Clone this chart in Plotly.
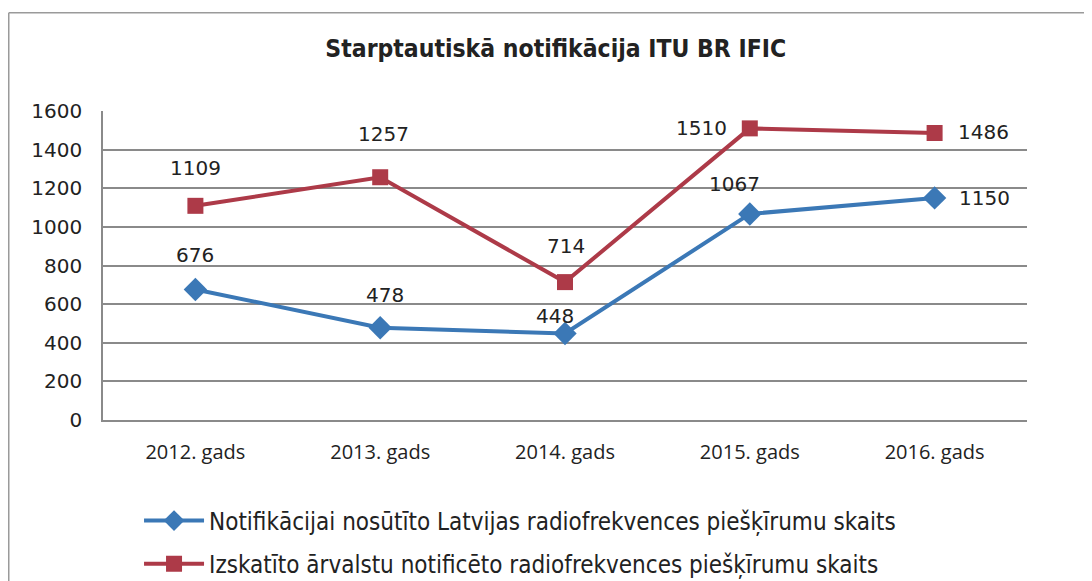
import plotly.graph_objects as go

categories = ["2012. gads", "2013. gads", "2014. gads", "2015. gads", "2016. gads"]
blue_name = "Notifikācijai nosūtīto Latvijas radiofrekvences piešķīrumu skaits"
red_name = "Izskatīto ārvalstu notificēto radiofrekvences piešķīrumu skaits"
blue_values = [676, 478, 448, 1067, 1150]
red_values = [1109, 1257, 714, 1510, 1486]
y_ticks = [0, 200, 400, 600, 800, 1000, 1200, 1400, 1600]
title_text = "Starptautiskā notifikācija ITU BR IFIC"

BLUE = "#3B78B6"
RED = "#AD3A48"
NUM_FONT = dict(family="DejaVu Sans", size=20, color="#222222")
NARROW = "DejaVu Sans Condensed, Liberation Sans, sans-serif"

# label placement (xshift, yshift) per point
blue_label_shift = [(0, 34), (5, 33), (-10, 17), (-15, 30), (50, 0)]
red_label_shift = [(0, 38), (3, 43), (1, 36), (-48, 0), (49, 1)]

fig = go.Figure()
fig.add_trace(go.Scatter(
    x=categories, y=blue_values, name=blue_name, mode="lines+markers",
    line=dict(color=BLUE, width=4),
    marker=dict(symbol="diamond", size=18, color=BLUE),
))
fig.add_trace(go.Scatter(
    x=categories, y=red_values, name=red_name, mode="lines+markers",
    line=dict(color=RED, width=4),
    marker=dict(symbol="square", size=16, color=RED),
))

annotations = []
for vals, shifts in ((blue_values, blue_label_shift), (red_values, red_label_shift)):
    for c, v, (dx, dy) in zip(categories, vals, shifts):
        annotations.append(dict(
            x=c, y=v, text=str(v), showarrow=False, xshift=dx, yshift=dy,
            font=NUM_FONT, xanchor="center", yanchor="middle",
        ))

W, H = 1084, 590
fig.update_layout(
    width=W, height=H,
    margin=dict(l=95, r=65, t=103, b=176),
    paper_bgcolor="white", plot_bgcolor="white",
    title=dict(text=title_text, x=0.49, xref="paper", y=1 - 40 / H, yref="container",
               xanchor="center", yanchor="middle",
               font=dict(family=NARROW, size=24.5, color="#222222", weight="bold")),
    xaxis=dict(type="category", range=[-0.5, 4.5], showgrid=False,
               showline=True, linecolor="#8a8a8a", linewidth=1.5, ticks="",
               tickfont=dict(family="Open Sans", size=20, color="#222222"),
               ticklabelstandoff=13),
    yaxis=dict(range=[0, 1600], tickvals=y_ticks, showgrid=True,
               gridcolor="#8a8a8a", gridwidth=1.5, showline=True,
               linecolor="#8a8a8a", linewidth=1.5, ticks="", zeroline=False,
               tickfont=NUM_FONT, ticklabelstandoff=15),
    legend=dict(orientation="v", x=0.039, xanchor="left", y=-0.254, yanchor="top",
                font=dict(family=NARROW, size=24, color="#222222"),
                tracegroupgap=9, itemwidth=60),
    annotations=annotations,
    shapes=[
        dict(type="line", xref="paper", yref="paper", x0=-0.102, x1=1.08,
             y0=1.318, y1=1.318, line=dict(color="#9a9a9a", width=1.5)),
        dict(type="line", xref="paper", yref="paper", x0=-0.102, x1=-0.102,
             y0=1.318, y1=-0.6, line=dict(color="#9a9a9a", width=1.5)),
    ],
)
for i, tr in enumerate(fig.data):
    tr.legendgroup = f"g{i}"

fig.write_html("out.html")
